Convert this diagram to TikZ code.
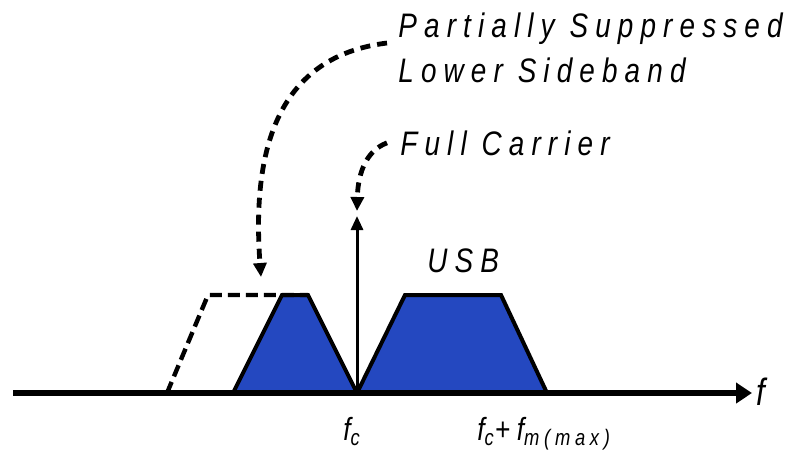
\documentclass[tikz,border=0pt]{standalone}
\usepackage{fontspec}
\usepackage{tikz}
\usetikzlibrary{arrows.meta}
\newfontfamily\labelfont{Liberation Sans}[FakeStretch=0.82,LetterSpace=21]
\definecolor{sidebandblue}{RGB}{36,72,192}
\tikzset{
  sideband-shape/.style={fill=sidebandblue, draw=black, line width=2pt, line join=miter},
  suppressed-edge/.style={draw=black, line width=2.2pt, dash pattern=on 6pt off 3pt},
  pointer-arrow/.style={-{Triangle[length=7pt, width=6.5pt]}, line width=2.4pt,
    dash pattern=on 5pt off 3.5pt},
  carrier-arrow/.style={-{Triangle[length=7pt, width=6pt]}, line width=1.5pt},
  axis-arrow/.style={-{Triangle[length=8pt, width=10pt]}, line width=3.4pt},
  label-text/.style={font=\labelfont\itshape\fontsize{17}{22.5}\selectfont,
    anchor=base west, inner sep=0pt, align=left},
  freq-text/.style={font=\labelfont\itshape\fontsize{16}{18}\selectfont,
    anchor=base west, inner sep=0pt}
}

\begin{document}
\begin{tikzpicture}[x=0.5pt, y=-0.5pt]
\useasboundingbox (0,0) rectangle (791,451);
% spectrum
\coordinate (origin) at (13,393);
\coordinate (carrier) at (357,393);
\coordinate (carriertop) at (357,216);
\coordinate (fend) at (752,393);
\draw[sideband-shape] (233,393) -- (282,295) -- (308,295) -- (carrier) -- cycle;
\draw[sideband-shape] (carrier) -- (405,295) -- (501,295) -- (547,393) -- cycle;
\draw[suppressed-edge] (167,393) -- (208,295) -- (308,295);
\draw[axis-arrow] (origin) -- (fend);
\draw[carrier-arrow] (carrier) -- (carriertop);
% labels
\node[label-text] (psl) at (398,82) {Partially Suppressed\\Lower Sideband};
\node[label-text] (fullc) at (400,155) {Full Carrier};
\node[label-text] (usb) at (427,272) {USB};
\node[freq-text] (fclabel) at (343,440) {f\textsubscript{c}};
\node[freq-text] (fmlabel) at (477,440) {f\textsubscript{c}+f\textsubscript{m(max)}};
\node[label-text, font=\labelfont\itshape\fontsize{19}{20}\selectfont] (faxis) at (756,405) {f};
% pointers
\coordinate (pslstart) at (387,43);
\coordinate (lsbtip) at (261,277);
\coordinate (ctip) at (357,211);
\draw[pointer-arrow] (pslstart) .. controls (290,55) and (250,130) .. (lsbtip);
\draw[pointer-arrow] ([xshift=-6.5pt]fullc.west) .. controls (368,150) and (358,170) .. (ctip);
\end{tikzpicture}
\end{document}
